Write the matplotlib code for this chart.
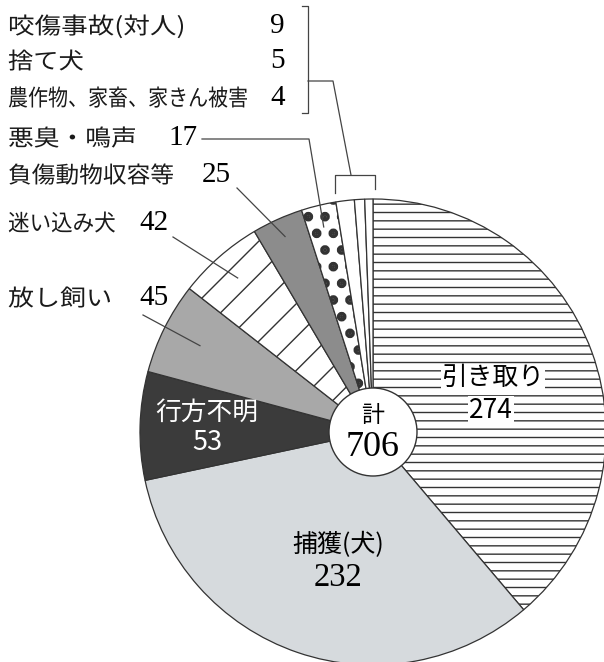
import numpy as np
import matplotlib.pyplot as plt
from matplotlib.patches import Circle, PathPatch
from matplotlib.textpath import TextPath
from matplotlib.font_manager import FontProperties
from matplotlib.transforms import Affine2D

plt.rcParams['font.family'] = ['Noto Sans CJK JP', 'DejaVu Sans']

# 内訳 (clockwise from the top)
labels = ['引き取り', '捕獲(犬)', '行方不明', '放し飼い', '迷い込み犬',
          '負傷動物収容等', '悪臭・鳴声', '咬傷事故(対人)', '捨て犬',
          '農作物、家畜、家きん被害']
values = [274, 232, 53, 45, 42, 25, 17, 9, 5, 4]
total = sum(values)

fills = ['white', '#d6dadd', '#3b3b3b', '#a8a8a8', 'white',
         '#8c8c8c', 'white', 'white', 'white', 'white']
hatches = ['--', None, None, None, '/', None, '.', None, None, None]

W, H = 604, 662
cx, cy, R = 373, 432, 233

fig = plt.figure(figsize=(W / 100, H / 100), dpi=100)
ax = fig.add_axes([0, 0, 1, 1])

# y axis is inverted (pixel-like coords), so counterclock in data = clockwise on screen
wedges, _ = ax.pie(values, colors=fills, startangle=-90, counterclock=True,
                   center=(cx, cy), radius=R,
                   wedgeprops=dict(edgecolor='#333333', linewidth=0.9))
for w, h in zip(wedges, hatches):
    if h:
        w.set_hatch(h)
    if h == '.':
        if hasattr(w, 'set_hatch_linewidth'):
            w.set_hatch_linewidth(4.5)

ax.set_xlim(0, W)
ax.set_ylim(H, 0)
ax.set_aspect('equal')
ax.axis('off')

jp = 'Noto Sans CJK JP'
serif = 'Liberation Serif'
px = 100 / 72  # pixels per point


def inside(i, frac):
    w = wedges[i]
    a = np.deg2rad((w.theta1 + w.theta2) / 2)
    return cx + R * frac * np.cos(a), cy + R * frac * np.sin(a)


def squeezed(x, y, s, right, size=16.5):
    # text drawn as a path, scaled horizontally so it ends at `right`
    tp = TextPath((0, 0), s, size=size, prop=FontProperties(family=jp))
    ext = tp.get_extents()
    sx = (right - x) / (ext.x1 * px)
    base = y + 0.38 * size * px
    tr = Affine2D().scale(sx * px, -px).translate(x, base) + ax.transData
    ax.add_patch(PathPatch(tp, facecolor='#1a1a1a', edgecolor='none', transform=tr))


lc = '#444444'
lw = 0.9

# center
ax.add_patch(Circle((cx, cy), 44, facecolor='white', edgecolor='#333333', lw=1.0, zorder=5))
ax.text(cx, 416, '計', fontsize=16.5, family=jp, ha='center', va='center', zorder=6)
ax.text(cx, 448, str(total), fontsize=26, family=serif, ha='center', va='center', zorder=6)

# labels inside
box = dict(facecolor='white', edgecolor='none', pad=0.5)
ax.text(493, 378, labels[0], fontsize=18.5, family=jp, ha='center', va='center', bbox=box)
ax.text(491, 410, str(values[0]), fontsize=19, family=jp, ha='center', va='center', bbox=box)
ax.text(338, 545, labels[1], fontsize=18, family=jp, ha='center', va='center')
ax.text(338, 578, str(values[1]), fontsize=23.5, family=serif, ha='center', va='center')
ax.text(207, 413, labels[2], fontsize=18.5, family=jp, ha='center', va='center', color='white')
ax.text(207, 442, str(values[2]), fontsize=19.5, family=jp, ha='center', va='center', color='white')

# labels outside: (slice, y, label right edge, number right edge)
nfs = 21
rows = [(7, 25, 183, 285), (8, 60, 83, 285), (9, 97, 247, 285), (6, 137, 135, 198),
        (5, 174, 173, 231), (4, 222, 115, 169), (3, 297, 110, 169)]
for i, y, rx, nx in rows:
    squeezed(8, y, labels[i], rx)
    ax.text(nx, y + 1, str(values[i]), fontsize=nfs, family=serif, ha='right', va='center')

# leader lines
x, y = inside(6, 0.905)
ax.plot([202, 309, x], [139, 139, y], color=lc, lw=lw)
x, y = inside(5, 0.92)
ax.plot([237, x], [188, y], color=lc, lw=lw)
x, y = inside(4, 0.88)
ax.plot([173, x], [237, y], color=lc, lw=lw)
x, y = inside(3, 0.83)
ax.plot([143, x], [315, y], color=lc, lw=lw)

# bracket for the three small slices
ax.plot([302, 308, 308, 302], [6, 6, 113, 113], color=lc, lw=lw)
ax.plot([308, 333, 351], [81, 81, 175], color=lc, lw=lw)
ax.plot([335, 335, 375, 375], [193, 175, 175, 189], color=lc, lw=lw)

fig.savefig('out.png', dpi=100)
